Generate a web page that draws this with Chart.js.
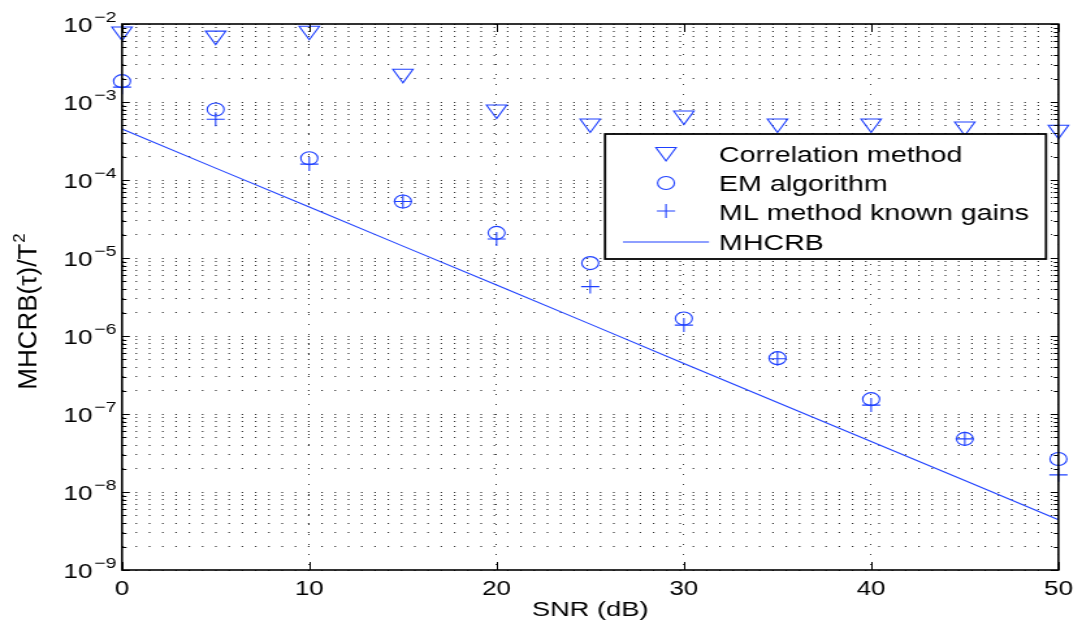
<!DOCTYPE html>
<html>
<head>
<meta charset="utf-8">
<script src="https://cdn.jsdelivr.net/npm/chart.js@4.4.1/dist/chart.umd.min.js"></script>
<style>
  html, body { margin: 0; padding: 0; background: #fff; overflow: hidden; }
  /* the reference is stretched horizontally, so the chart is drawn narrow and scaled */
  #wrap { width: 832px; height: 630px; transform: scaleX(1.30048); transform-origin: 0 0; }
</style>
</head>
<body>
<div id="wrap"><canvas id="chart"></canvas></div>
<script>
const snr = [0, 5, 10, 15, 20, 25, 30, 35, 40, 45, 50];
const correlation = [8.0e-3, 7.1e-3, 8.2e-3, 2.3e-3, 8.0e-4, 5.3e-4, 6.7e-4, 5.3e-4, 5.3e-4, 4.85e-4, 4.4e-4];
const emAlgorithm = [1.85e-3, 8.0e-4, 1.9e-4, 5.3e-5, 2.1e-5, 8.6e-6, 1.68e-6, 5.2e-7, 1.55e-7, 4.8e-8, 2.65e-8];
const mlKnownGains = [1.55e-3, 6.0e-4, 1.6e-4, 5.3e-5, 1.75e-5, 4.3e-6, 1.38e-6, 5.1e-7, 1.3e-7, 4.8e-8, 1.66e-8];
const mhcrb = [4.5e-4, 1.42e-4, 4.5e-5, 1.42e-5, 4.5e-6, 1.42e-6, 4.45e-7, 1.4e-7, 4.45e-8, 1.4e-8, 4.4e-9];
const xTicks = [0, 10, 20, 30, 40, 50];
const yDecades = [-9, -8, -7, -6, -5, -4, -3, -2];
const seriesNames = ["Correlation method", "EM algorithm", "ML method known gains", "MHCRB"];

const S = 1082 / 832;
const BLUE = "rgb(30,64,255)";
const FONT = "'Liberation Sans', Arial, Helvetica, sans-serif";
const pts = vals => snr.map((x, i) => ({ x: x, y: vals[i] }));
const isPow10 = v => Math.abs(Math.log10(v) - Math.round(Math.log10(v))) < 1e-9;

const markerDatasets = [
  { label: seriesNames[0], data: pts(correlation), pointStyle: "triangle", rotation: 180, pointRadius: 9 },
  { label: seriesNames[1], data: pts(emAlgorithm), pointStyle: "circle", rotation: 0, pointRadius: 6.5 },
  { label: seriesNames[2], data: pts(mlKnownGains), pointStyle: "cross", rotation: 0, pointRadius: 7 }
].map(d => Object.assign(d, {
  showLine: false,
  borderColor: BLUE,
  backgroundColor: "rgba(0,0,0,0)",
  pointBorderColor: BLUE,
  pointBackgroundColor: "rgba(0,0,0,0)",
  pointBorderWidth: 1.1,
  clip: false
}));

const lineDataset = {
  label: seriesNames[3],
  data: pts(mhcrb),
  borderColor: BLUE,
  borderWidth: 1.1,
  pointRadius: 0,
  tension: 0,
  clip: false
};

function drawMarker(ctx, style, radius, rotation, x, y) {
  if (Chart.helpers && Chart.helpers.drawPoint) {
    Chart.helpers.drawPoint(ctx, { pointStyle: style, radius: radius, rotation: rotation, borderWidth: 1.1 }, x, y);
    return;
  }
  ctx.beginPath();
  if (style === "circle") ctx.arc(x, y, radius, 0, Math.PI * 2);
  else if (style === "cross") { ctx.moveTo(x - radius, y); ctx.lineTo(x + radius, y); ctx.moveTo(x, y - radius); ctx.lineTo(x, y + radius); }
  else {
    ctx.moveTo(x - radius * 0.866, y - radius * 0.5);
    ctx.lineTo(x + radius * 0.866, y - radius * 0.5);
    ctx.lineTo(x, y + radius);
    ctx.closePath();
  }
  ctx.stroke();
}

const decor = {
  id: "decor",
  afterDraw(chart) {
    const { ctx, chartArea: a, scales } = chart;
    const xs = scales.x, ys = scales.y;
    ctx.save();

    // tick marks (inward, all four sides)
    ctx.strokeStyle = "#000";
    ctx.lineWidth = 1;
    ctx.beginPath();
    xTicks.forEach(v => {
      const px = Math.round(xs.getPixelForValue(v)) + 0.5;
      ctx.moveTo(px, a.bottom); ctx.lineTo(px, a.bottom - 8);
      ctx.moveTo(px, a.top); ctx.lineTo(px, a.top + 8);
    });
    ys.ticks.forEach(t => {
      const py = Math.round(ys.getPixelForValue(t.value)) + 0.5;
      const len = isPow10(t.value) ? 6 : 3.5;
      ctx.moveTo(a.left, py); ctx.lineTo(a.left + len, py);
      ctx.moveTo(a.right, py); ctx.lineTo(a.right - len, py);
    });
    ctx.stroke();

    // frame
    ctx.lineWidth = 1.6;
    ctx.strokeRect(a.left, a.top, a.right - a.left, a.bottom - a.top);

    // y tick labels 10^k
    ctx.fillStyle = "#000";
    yDecades.forEach(k => {
      const py = ys.getPixelForValue(Math.pow(10, k));
      ctx.font = "20px " + FONT;
      ctx.textAlign = "right";
      ctx.textBaseline = "alphabetic";
      ctx.fillText("10", 71, py + 7.5);
      ctx.font = "15px " + FONT;
      ctx.textAlign = "left";
      ctx.fillText("\u2212" + Math.abs(k), 72.5, py - 2);
    });

    // x title
    ctx.font = "21px " + FONT;
    ctx.textAlign = "center";
    ctx.textBaseline = "alphabetic";
    ctx.fillText("SNR (dB)", (a.left + a.right) / 2, 616);

    // y title (not stretched in the reference)
    ctx.save();
    ctx.translate(36 / S, 312);
    ctx.scale(1 / S, 1);
    ctx.rotate(-Math.PI / 2);
    ctx.font = "26px " + FONT;
    const mainTxt = "MHCRB(\u03c4)/T";
    const w1 = ctx.measureText(mainTxt).width;
    ctx.font = "17px " + FONT;
    const w2 = ctx.measureText("2").width;
    const u0 = -(w1 + w2) / 2;
    ctx.textAlign = "left";
    ctx.font = "26px " + FONT;
    ctx.fillText(mainTxt, u0, 0);
    ctx.font = "17px " + FONT;
    ctx.fillText("2", u0 + w1 + 1, -11);
    ctx.restore();

    // legend box inside the plot
    const lx1 = 605 / S, lx2 = 1046 / S, ly1 = 134, ly2 = 259;
    ctx.fillStyle = "#fff";
    ctx.fillRect(lx1, ly1, lx2 - lx1, ly2 - ly1);
    ctx.strokeStyle = "#000";
    ctx.lineWidth = 1.8;
    ctx.strokeRect(lx1, ly1, lx2 - lx1, ly2 - ly1);

    const rowsY = [152, 183, 211, 242];
    const baseY = [162, 191, 220, 250];
    const mx = 666 / S;
    ctx.strokeStyle = BLUE;
    ctx.fillStyle = "rgba(0,0,0,0)";
    ctx.lineWidth = 1.1;
    markerDatasets.forEach((d, i) => {
      drawMarker(ctx, d.pointStyle, d.pointRadius, d.rotation, mx, rowsY[i]);
    });
    ctx.beginPath();
    ctx.moveTo(623 / S, rowsY[3]);
    ctx.lineTo(709 / S, rowsY[3]);
    ctx.stroke();

    ctx.fillStyle = "#000";
    ctx.font = "22px " + FONT;
    ctx.textAlign = "left";
    ctx.textBaseline = "alphabetic";
    seriesNames.forEach((name, i) => ctx.fillText(name, 719 / S, baseY[i]));

    ctx.restore();
  }
};

new Chart(document.getElementById("chart"), {
  type: "line",
  data: { datasets: [...markerDatasets, lineDataset] },
  options: {
    responsive: true,
    maintainAspectRatio: false,
    devicePixelRatio: 1,
    animation: false,
    events: [],
    layout: { padding: { top: 24, right: 832 - 1062 / S, left: 0, bottom: 0 } },
    plugins: { legend: { display: false }, tooltip: { enabled: false } },
    scales: {
      x: {
        type: "linear",
        min: 0,
        max: 50,
        afterFit: s => { s.height = 60; },
        ticks: {
          stepSize: 10,
          autoSkip: false,
          maxRotation: 0,
          padding: 7,
          color: "#000",
          font: { family: FONT, size: 20 }
        },
        grid: { color: "rgba(0,0,0,0.8)", lineWidth: 1, drawTicks: false },
        border: { display: false, dash: [1, 9] }
      },
      y: {
        type: "logarithmic",
        min: 1e-9,
        max: 1e-2,
        afterFit: s => { s.width = 122 / S; },
        afterBuildTicks: s => {
          const t = [];
          for (let k = -9; k < -2; k++) {
            for (let m = 1; m < 10; m++) t.push({ value: m * Math.pow(10, k) });
          }
          t.push({ value: 1e-2 });
          s.ticks = t;
        },
        ticks: { display: false },
        grid: { color: "rgba(0,0,0,0.8)", lineWidth: 1, drawTicks: false },
        border: { display: false, dash: [1.2, 9] }
      }
    }
  },
  plugins: [decor]
});
</script>
</body>
</html>
